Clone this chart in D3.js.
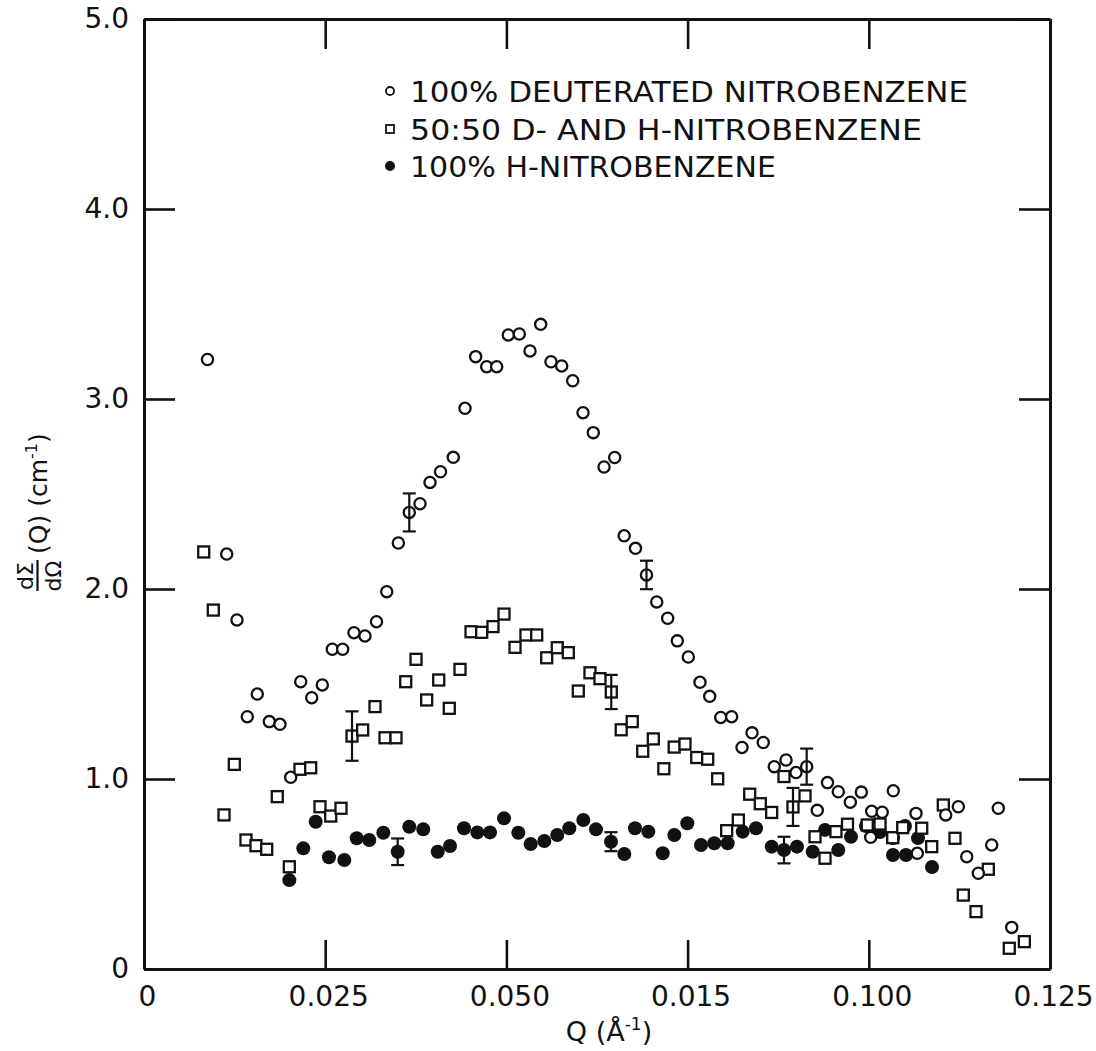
<!DOCTYPE html>
<html>
<head>
<meta charset="utf-8">
<script src="https://cdn.jsdelivr.net/npm/d3@7/dist/d3.min.js"></script>
<style>
  html, body { margin: 0; background: #fff; }
  svg { display: block; }
</style>
</head>
<body>
<svg id="chart" width="1096" height="1051"></svg>
<script>
// Small-angle neutron scattering cross section dΣ/dΩ(Q) for nitrobenzene mixtures.
// Each series: [Q (Å^-1), dΣ/dΩ (cm^-1)]
const deuterated = [
  [0.00876,3.208],[0.01141,2.184],[0.01283,1.837],[0.01425,1.328],[0.01563,1.447],[0.01729,1.302],
  [0.01876,1.288],[0.02024,1.009],[0.02162,1.512],[0.02314,1.428],[0.02460,1.495],[0.02598,1.683],
  [0.02741,1.683],[0.02897,1.770],[0.03049,1.753],[0.03208,1.828],[0.03349,1.986],[0.03509,2.242],
  [0.03660,2.403],[0.03808,2.449],[0.03946,2.561],[0.04091,2.617],[0.04267,2.693],[0.04429,2.951],
  [0.04576,3.223],[0.04728,3.170],[0.04866,3.170],[0.05026,3.337],[0.05178,3.342],[0.05326,3.253],
  [0.05473,3.393],[0.05615,3.196],[0.05763,3.174],[0.05915,3.096],[0.06057,2.928],[0.06199,2.823],
  [0.06347,2.642],[0.06494,2.692],[0.06625,2.280],[0.06781,2.214],[0.06933,2.074],[0.07074,1.932],
  [0.07225,1.846],[0.07358,1.727],[0.07510,1.642],[0.07671,1.509],[0.07805,1.435],[0.07957,1.324],
  [0.08108,1.328],[0.08251,1.166],[0.08389,1.243],[0.08544,1.192],[0.08696,1.065],[0.08858,1.100],
  [0.08996,1.034],[0.09143,1.065],[0.09289,0.835],[0.09430,0.981],[0.09579,0.933],[0.09745,0.878],
  [0.09897,0.931],[0.10026,0.693],[0.10040,0.830],[0.10185,0.825],[0.10338,0.938],[0.10651,0.819],
  [0.10669,0.609],[0.11061,0.811],[0.11235,0.854],[0.11351,0.591],[0.11511,0.504],[0.11696,0.653],
  [0.11787,0.846],[0.11972,0.219]
];
const mixed = [
  [0.00824,2.195],[0.00956,1.889],[0.01104,0.811],[0.01246,1.077],[0.01407,0.679],[0.01545,0.649],
  [0.01693,0.630],[0.01839,0.907],[0.02005,0.538],[0.02152,1.051],[0.02300,1.059],[0.02428,0.854],
  [0.02576,0.805],[0.02718,0.846],[0.02870,1.226],[0.03017,1.258],[0.03187,1.381],[0.03325,1.217],
  [0.03477,1.217],[0.03611,1.512],[0.03753,1.630],[0.03900,1.416],[0.04066,1.521],[0.04212,1.372],
  [0.04360,1.577],[0.04512,1.775],[0.04659,1.772],[0.04815,1.802],[0.04967,1.868],[0.05119,1.693],
  [0.05270,1.758],[0.05418,1.758],[0.05556,1.638],[0.05702,1.691],[0.05854,1.665],[0.05992,1.463],
  [0.06153,1.559],[0.06291,1.528],[0.06447,1.458],[0.06584,1.259],[0.06736,1.302],[0.06881,1.146],
  [0.07027,1.211],[0.07172,1.054],[0.07315,1.168],[0.07464,1.184],[0.07626,1.113],[0.07777,1.104],
  [0.07915,1.001],[0.08039,0.728],[0.08200,0.784],[0.08357,0.920],[0.08503,0.870],[0.08660,0.824],
  [0.08830,1.013],[0.08954,0.853],[0.09120,0.911],[0.09258,0.696],[0.09396,0.583],[0.09547,0.723],
  [0.09706,0.762],[0.09979,0.758],[0.10155,0.763],[0.10330,0.691],[0.10468,0.744],[0.10730,0.741],
  [0.10868,0.644],[0.11028,0.863],[0.11189,0.688],[0.11304,0.389],[0.11479,0.302],[0.11649,0.525],
  [0.11938,0.109],[0.12146,0.144]
];
const protonated = [
  [0.02005,0.468],[0.02198,0.635],[0.02369,0.775],[0.02552,0.588],[0.02764,0.574],[0.02935,0.688],
  [0.03108,0.679],[0.03302,0.717],[0.03500,0.617],[0.03660,0.749],[0.03853,0.735],[0.04052,0.617],
  [0.04222,0.647],[0.04415,0.741],[0.04599,0.719],[0.04774,0.719],[0.04967,0.793],[0.05164,0.717],
  [0.05335,0.658],[0.05523,0.674],[0.05702,0.705],[0.05868,0.741],[0.06061,0.784],[0.06236,0.735],
  [0.06443,0.670],[0.06627,0.605],[0.06774,0.741],[0.06958,0.723],[0.07157,0.609],[0.07317,0.705],
  [0.07496,0.767],[0.07685,0.653],[0.07868,0.662],[0.08053,0.662],[0.08260,0.723],[0.08444,0.741],
  [0.08660,0.644],[0.08830,0.626],[0.09009,0.644],[0.09226,0.617],[0.09396,0.732],[0.09579,0.626],
  [0.09754,0.696],[0.09961,0.753],[0.10155,0.721],[0.10334,0.689],[0.10334,0.600],[0.10499,0.753],
  [0.10513,0.600],[0.10679,0.689],[0.10872,0.537]
];

// Representative error bars: [Q, ± error]
const errDeuterated = [[0.03660,0.10],[0.06933,0.075],[0.09143,0.095]];
const errMixed      = [[0.02870,0.13],[0.06447,0.09],[0.08954,0.10]];
const errProtonated = [[0.03500,0.07],[0.06443,0.05],[0.08830,0.07]];

const xTickValues = [0, 0.025, 0.05, 0.075, 0.1, 0.125];
const xTickLabels = ["0", "0.025", "0.050", "0.015", "0.100", "0.125"];
const yTickValues = [0, 1, 2, 3, 4, 5];
const yTickLabels = ["0", "1.0", "2.0", "3.0", "4.0", "5.0"];

const legendLabels = [
  "100% DEUTERATED NITROBENZENE",
  "50:50 D- AND H-NITROBENZENE",
  "100% H-NITROBENZENE"
];

const FONT = "'DejaVu Sans', 'Liberation Sans', sans-serif";
const INK = "#111";

const svg = d3.select("#chart");
const x = d3.scaleLinear().domain([0, 0.125]).range([144, 1050]);
const y = d3.scaleLinear().domain([0, 5]).range([969, 19]);

// ---- frame with inward ticks on all four sides ----
function styleAxis(g, showText) {
  g.select(".domain").attr("stroke", INK).attr("stroke-width", 3);
  g.selectAll(".tick line").attr("stroke", INK).attr("stroke-width", 2.6);
  g.selectAll(".tick text")
    .attr("fill", INK)
    .style("font-family", FONT)
    .style("font-size", "28px");
  if (!showText) g.selectAll(".tick text").remove();
}

svg.append("g")
  .attr("transform", `translate(0,${y(0)})`)
  .call(d3.axisBottom(x).tickValues(xTickValues)
    .tickFormat((d, i) => xTickLabels[i])
    .tickSizeInner(-29).tickSizeOuter(0).tickPadding(17))
  .call(g => styleAxis(g, true))
  .call(g => g.selectAll(".tick text").attr("dx", 3));

svg.append("g")
  .attr("transform", `translate(0,${y(5)})`)
  .call(d3.axisTop(x).tickValues(xTickValues).tickFormat("")
    .tickSizeInner(-30).tickSizeOuter(0))
  .call(g => styleAxis(g, false));

svg.append("g")
  .attr("transform", `translate(${x(0)},0)`)
  .call(d3.axisLeft(y).tickValues(yTickValues)
    .tickFormat((d, i) => yTickLabels[i])
    .tickSizeInner(-31).tickSizeOuter(0).tickPadding(15))
  .call(g => styleAxis(g, true));

svg.append("g")
  .attr("transform", `translate(${x(0.125)},0)`)
  .call(d3.axisRight(y).tickValues(yTickValues).tickFormat("")
    .tickSizeInner(-31).tickSizeOuter(0))
  .call(g => styleAxis(g, false));

// ---- axis titles ----
const xt = svg.append("text")
  .attr("x", 609).attr("y", 1041)
  .attr("text-anchor", "middle")
  .attr("fill", INK)
  .style("font-family", FONT).style("font-size", "27px");
xt.append("tspan").text("Q (Å");
xt.append("tspan").text("-1").style("font-size", "17px").attr("dy", -11);
xt.append("tspan").text(")").attr("dy", 11);

const yt = svg.append("g")
  .attr("transform", "translate(47,592) rotate(-90)")
  .attr("fill", INK)
  .style("font-family", FONT);
yt.append("text").attr("x", 16).attr("y", -14).attr("text-anchor", "middle")
  .style("font-size", "22px").text("dΣ");
yt.append("line").attr("x1", 1).attr("x2", 32).attr("y1", -9.5).attr("y2", -9.5)
  .attr("stroke", INK).attr("stroke-width", 2.2);
yt.append("text").attr("x", 16).attr("y", 14).attr("text-anchor", "middle")
  .style("font-size", "22px").text("dΩ");
const ytm = yt.append("text").attr("x", 38).attr("y", 0).style("font-size", "25px");
ytm.append("tspan").text("(Q) (cm");
ytm.append("tspan").text("-1").style("font-size", "16px").attr("dy", -10);
ytm.append("tspan").text(")").attr("dy", 10);

// ---- markers ----
const plot = svg.append("g");

function errorBars(series, errs) {
  errs.forEach(([q, e]) => {
    const p = series.find(d => d[0] === q);
    if (!p) return;
    const cx = x(p[0]);
    const g = plot.append("g").attr("stroke", INK).attr("stroke-width", 2.2);
    g.append("line").attr("x1", cx).attr("x2", cx).attr("y1", y(p[1] + e)).attr("y2", y(p[1] - e));
    g.append("line").attr("x1", cx - 6.5).attr("x2", cx + 6.5).attr("y1", y(p[1] + e)).attr("y2", y(p[1] + e));
    g.append("line").attr("x1", cx - 6.5).attr("x2", cx + 6.5).attr("y1", y(p[1] - e)).attr("y2", y(p[1] - e));
  });
}

// filled circles: 100% H-nitrobenzene
plot.append("g").selectAll("circle").data(protonated).join("circle")
  .attr("cx", d => x(d[0])).attr("cy", d => y(d[1])).attr("r", 7)
  .attr("fill", INK);
errorBars(protonated, errProtonated);

// open squares: 50:50 mixture
const S = 11;
plot.append("g").selectAll("rect").data(mixed).join("rect")
  .attr("x", d => x(d[0]) - S / 2).attr("y", d => y(d[1]) - S / 2)
  .attr("width", S).attr("height", S)
  .attr("fill", "#fff").attr("stroke", INK).attr("stroke-width", 2.3);
errorBars(mixed, errMixed);

// open circles: 100% deuterated
plot.append("g").selectAll("circle").data(deuterated).join("circle")
  .attr("cx", d => x(d[0])).attr("cy", d => y(d[1])).attr("r", 5.6)
  .attr("fill", "#fff").attr("stroke", INK).attr("stroke-width", 2.3);
errorBars(deuterated, errDeuterated);

// ---- legend ----
const legend = svg.append("g");
const legendRowsY = [91, 129, 166];
const legendWidths = [558, 512, 366];
legendLabels.forEach((label, i) => {
  const cy = legendRowsY[i];
  if (i === 0) {
    legend.append("circle").attr("cx", 390).attr("cy", cy).attr("r", 4)
      .attr("fill", "#fff").attr("stroke", INK).attr("stroke-width", 1.8);
  } else if (i === 1) {
    legend.append("rect").attr("x", 386).attr("y", cy - 4).attr("width", 8).attr("height", 8)
      .attr("fill", "#fff").attr("stroke", INK).attr("stroke-width", 1.8);
  } else {
    legend.append("circle").attr("cx", 390).attr("cy", cy).attr("r", 5).attr("fill", INK);
  }
  legend.append("text")
    .attr("x", 410).attr("y", cy + 11)
    .attr("textLength", legendWidths[i]).attr("lengthAdjust", "spacingAndGlyphs")
    .attr("fill", INK)
    .style("font-family", FONT).style("font-size", "29px")
    .text(label);
});
</script>
</body>
</html>
